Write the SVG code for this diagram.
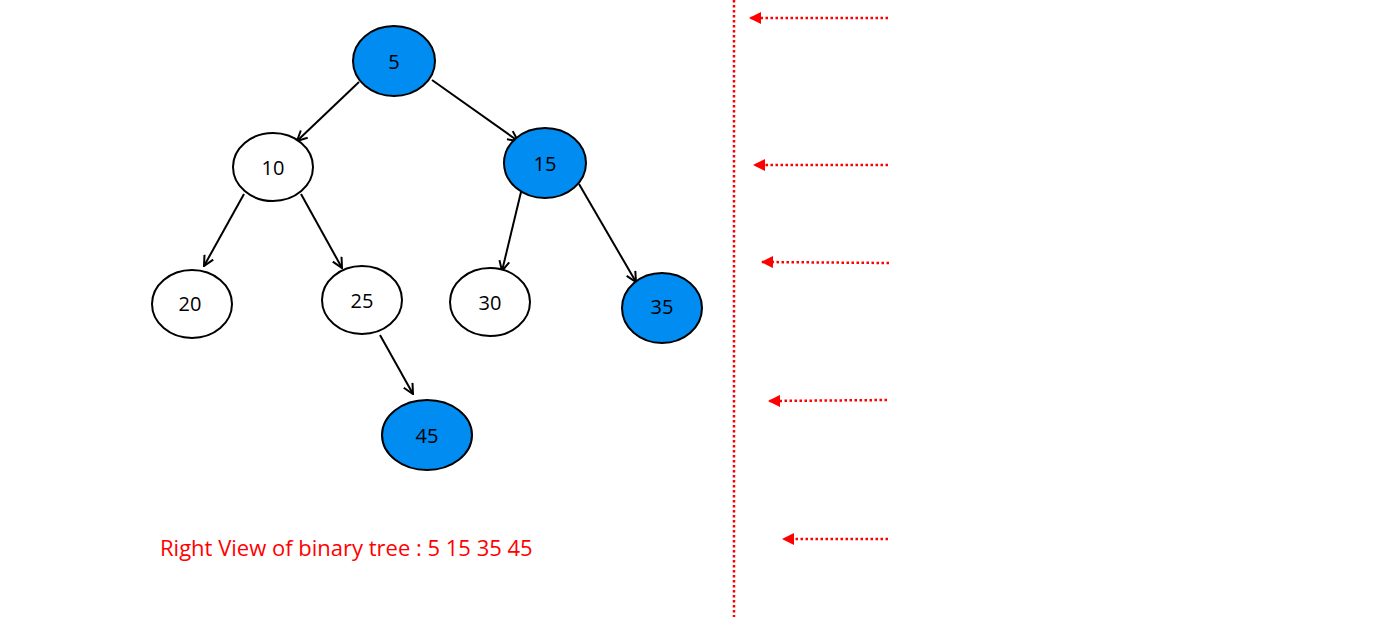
<svg xmlns="http://www.w3.org/2000/svg" width="1400" height="617" viewBox="0 0 1400 617">
<style>
.n{stroke:#000;stroke-width:2;fill:#fff}
.b{fill:#008cf0}
.t{font-family:"Open Sans","Liberation Sans",sans-serif;font-size:20px;fill:#000;text-anchor:middle;dominant-baseline:central}
.e{stroke:#000;stroke-width:2;fill:none;marker-end:url(#oa)}
.r{stroke:#f00;stroke-width:2.5;stroke-dasharray:2.5 2.5;fill:none}
</style>
<defs>
<marker id="oa" viewBox="0 0 12 12" refX="11" refY="6" markerWidth="12" markerHeight="12" markerUnits="userSpaceOnUse" orient="auto"><path d="M1,1 L11,6 L1,11" fill="none" stroke="#000" stroke-width="2"/></marker>
<marker id="ra" viewBox="0 0 12 12" refX="11" refY="6" markerWidth="12" markerHeight="12" markerUnits="userSpaceOnUse" orient="auto"><path d="M0,0 L12,6 L0,12 Z" fill="#f00"/></marker>
</defs>
<rect width="1400" height="617" fill="#fff"/>
<g id="connectors">
<line class="e" x1="359" y1="82" x2="297" y2="141"/>
<line class="e" x1="432" y1="80" x2="518" y2="141"/>
<line class="e" x1="244" y1="194" x2="204" y2="266"/>
<line class="e" x1="301" y1="194" x2="342" y2="268"/>
<line class="e" x1="521" y1="192" x2="502" y2="271"/>
<line class="e" x1="579" y1="184" x2="636" y2="282"/>
<line class="e" x1="380" y1="335" x2="413" y2="394"/>
<line class="r" x1="734" y1="0" x2="734" y2="617"/>
<line class="r" x1="888" y1="18" x2="750" y2="18" marker-end="url(#ra)"/>
<line class="r" x1="888" y1="165" x2="754" y2="165" marker-end="url(#ra)"/>
<line class="r" x1="889" y1="263" x2="762" y2="262" marker-end="url(#ra)"/>
<line class="r" x1="887" y1="400" x2="769" y2="401" marker-end="url(#ra)"/>
<line class="r" x1="888" y1="539" x2="783" y2="539" marker-end="url(#ra)"/>
</g>
<g id="n5"><ellipse class="n b" cx="394" cy="61" rx="41" ry="35"/><text class="t" x="394" y="61">5</text></g>
<g id="n10"><ellipse class="n" cx="273" cy="167" rx="40" ry="34"/><text class="t" x="273" y="167">10</text></g>
<g id="n15"><ellipse class="n b" cx="545" cy="163" rx="41" ry="35"/><text class="t" x="545" y="163">15</text></g>
<g id="n20"><ellipse class="n" cx="192" cy="304" rx="40" ry="34"/><text class="t" x="190" y="303">20</text></g>
<g id="n25"><ellipse class="n" cx="362" cy="300" rx="40" ry="34"/><text class="t" x="362" y="300">25</text></g>
<g id="n30"><ellipse class="n" cx="490" cy="302" rx="40" ry="34"/><text class="t" x="490" y="302">30</text></g>
<g id="n35"><ellipse class="n b" cx="662" cy="308" rx="40" ry="35"/><text class="t" x="662" y="306">35</text></g>
<g id="n45"><ellipse class="n b" cx="427" cy="435" rx="45" ry="35"/><text class="t" x="427" y="435">45</text></g>
<text x="160" y="556" font-family="Open Sans, Liberation Sans, sans-serif" font-size="22" fill="#f00">Right View of binary tree : 5 15 35 45</text>
</svg>
